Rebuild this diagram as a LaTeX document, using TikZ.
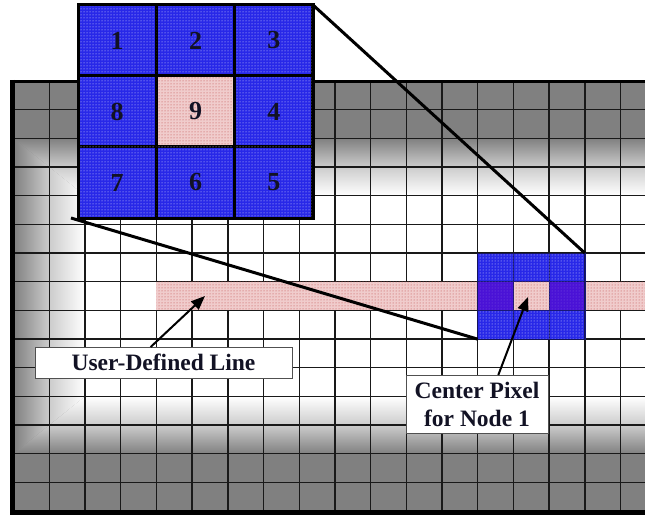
\documentclass[tikz,border=0pt]{standalone}
\usepackage{fontspec}
\setmainfont{Liberation Serif}
\usetikzlibrary{arrows.meta,patterns,calc}
\definecolor{bggray}{RGB}{128,128,128}
\definecolor{gridcol}{RGB}{25,25,25}
\definecolor{bluebase}{RGB}{40,40,232}
\definecolor{pinkbase}{RGB}{240,204,204}
\definecolor{pinkdot}{RGB}{190,70,70}
\definecolor{purplebase}{RGB}{74,18,214}
\definecolor{navy}{RGB}{20,20,90}
\definecolor{textcol}{RGB}{18,18,36}
\definecolor{boxline}{RGB}{80,80,80}
\begin{document}
\begin{tikzpicture}[x=1pt,y=-1pt,
  gridline/.style={draw=gridcol,line width=1.4pt},
  bluecell/.style={fill=bluebase,postaction={pattern=dots,pattern color=white!85!bluebase}},
  pinkcell/.style={fill=pinkbase,postaction={pattern=dots,pattern color=pinkdot}},
  purplecell/.style={fill=purplebase,postaction={pattern=dots,pattern color=purplebase!70!white}},
  bigcell/.style={minimum width=78.33pt,minimum height=71pt,inner sep=0pt,outer sep=0pt,
    draw=black,line width=3pt,font=\fontsize{26}{26}\selectfont\bfseries,text=textcol},
  smallcell/.style={minimum width=35.7pt,minimum height=28.67pt,inner sep=0pt,outer sep=0pt,
    draw=navy!80!bluebase,line width=0.6pt},
  labelbox/.style={draw=boxline,line width=0.8pt,fill=white,inner sep=0pt,outer sep=0pt,
    font=\fontsize{23.5}{28}\selectfont\bfseries,text=textcol},
  callout/.style={draw=black,line width=2pt,-{Triangle[length=14pt,width=11pt]}},
  zoomline/.style={draw=black,line width=3pt}
]
\useasboundingbox (0,0) rectangle (645,516);
% gray base
\fill[bggray] (13.6,81) rectangle (645,511);
% top gradient band
\begin{scope}
\clip (13.6,138.3) -- (645,138.3) -- (645,195.7) -- (85,195.7) -- cycle;
\shade[top color=bggray,bottom color=white,middle color=bggray!40!white] (13.6,138.3) rectangle (645,195.7);
\end{scope}
% left gradient band
\begin{scope}
\clip (13.6,138.3) -- (85,195.7) -- (85,396.4) -- (13.6,453.7) -- cycle;
\shade[left color=bggray,right color=white,middle color=bggray!40!white] (13.6,138.3) rectangle (85,453.7);
\end{scope}
% bottom gradient band
\begin{scope}
\clip (13.6,453.7) -- (85,396.4) -- (645,396.4) -- (645,453.7) -- cycle;
\shade[top color=white,bottom color=bggray,middle color=bggray!40!white] (13.6,396.4) rectangle (645,453.7);
\end{scope}
\fill[white] (85,195.7) rectangle (645,396.4);
% grid
\foreach \k in {1,...,17} \draw[gridline] ({13.6+35.7*\k},81) -- ({13.6+35.7*\k},511);
\foreach \j in {1,...,14} \draw[gridline] (13.6,{81+28.67*\j}) -- (645,{81+28.67*\j});
% frame
\draw[line width=5pt] (12.5,79.8) -- (12.5,514.7);
\draw[line width=3pt] (10,81.3) -- (645,81.3);
\draw[line width=5.5pt] (10,512.3) -- (645,512.3);
% user-defined line (pink band)
\path[pinkcell] (156.4,281.7) rectangle (645,310.4);
% small 3x3 window
\node[smallcell,bluecell] (s1) at (495.55,267.4) {};
\node[smallcell,bluecell] (s2) at (531.25,267.4) {};
\node[smallcell,bluecell] (s3) at (566.95,267.4) {};
\node[smallcell,purplecell] (s8) at (495.55,296.1) {};
\node[smallcell,pinkcell] (s9) at (531.25,296.1) {};
\node[smallcell,purplecell] (s4) at (566.95,296.1) {};
\node[smallcell,bluecell] (s7) at (495.55,324.8) {};
\node[smallcell,bluecell] (s6) at (531.25,324.8) {};
\node[smallcell,bluecell] (s5) at (566.95,324.8) {};
\node[draw=navy,line width=1pt,minimum width=107.1pt,minimum height=86.1pt,inner sep=0pt,outer sep=0pt] (small) at (531.25,296.1) {};
% labels
\node[labelbox,minimum width=257pt,minimum height=31pt] (udl) at (163.5,362.5) {User-Defined Line};
\node[labelbox,minimum width=142pt,minimum height=58pt,align=center] (cp) at (477,404) {Center Pixel\\for Node 1};
\coordinate (udltip) at (205,296);
\coordinate (cptip) at (528,297);
\draw[callout] ($(udl.north west)!0.45!(udl.north east)$) -- (udltip);
\draw[callout] ($(cp.north west)!0.65!(cp.north east)$) -- (cptip);
% magnified window
\node[minimum width=235pt,minimum height=213pt,inner sep=0pt,outer sep=0pt] (big) at (195.5,111.5) {};
\coordinate (bigstart) at (71,218);
\draw[zoomline] (big.north east) -- (small.north east);
\draw[zoomline] (bigstart) -- (small.south west);
\node[bigcell,bluecell] (c1) at (117.17,40.5) {1};
\node[bigcell,bluecell] (c2) at (195.5,40.5) {2};
\node[bigcell,bluecell] (c3) at (273.83,40.5) {3};
\node[bigcell,bluecell] (c8) at (117.17,111.5) {8};
\node[bigcell,pinkcell] (c9) at (195.5,111.5) {9};
\node[bigcell,bluecell] (c4) at (273.83,111.5) {4};
\node[bigcell,bluecell] (c7) at (117.17,182.5) {7};
\node[bigcell,bluecell] (c6) at (195.5,182.5) {6};
\node[bigcell,bluecell] (c5) at (273.83,182.5) {5};
\draw[black,line width=3pt] (big.north west) rectangle (big.south east);
\end{tikzpicture}
\end{document}
